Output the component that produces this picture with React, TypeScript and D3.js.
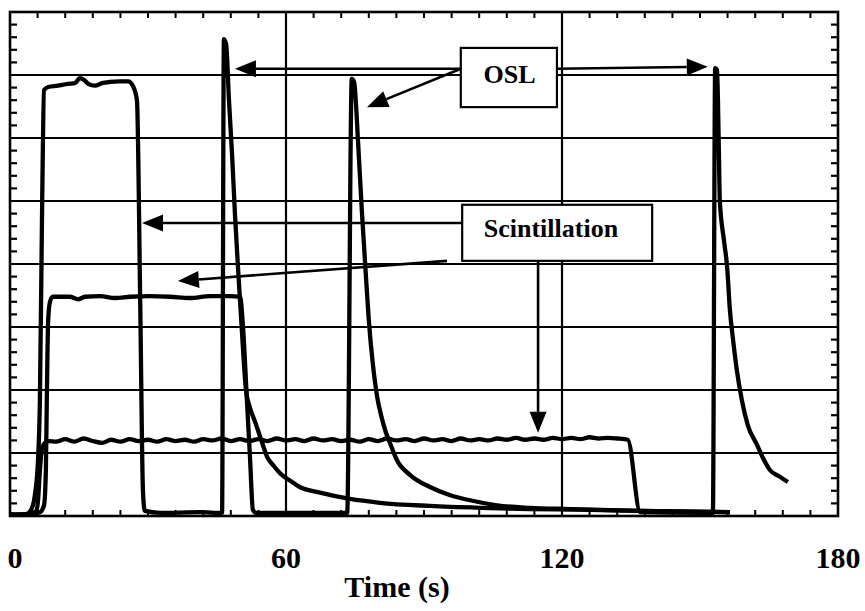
import React from "react";
import * as d3 from "d3";

// ---- data (time in s, signal in arbitrary units 0..8) ----
const xTickLabels = [0, 60, 120, 180];
const yGridValues = [1, 2, 3, 4, 5, 6, 7];

// high scintillation curve followed by first OSL peak
const seriesA: [number, number][] = [
  [0, 0.02], [3.5, 0.03], [4.6, 0.1], [5.4, 0.33], [6.1, 0.89], [6.5, 1.84], [7.0, 5.02], [7.4, 6.76],
  [8.3, 6.81], [10.4, 6.83], [12.6, 6.86], [14.1, 6.87], [15.2, 6.95], [16.1, 6.92], [17.0, 6.86],
  [18.5, 6.83], [20.0, 6.87], [21.7, 6.89], [23.9, 6.9], [25.7, 6.9], [26.7, 6.83], [27.6, 6.6],
  [28.3, 3.43], [28.9, 0.41], [29.3, 0.08], [32.6, 0.05], [41.3, 0.06], [46.1, 0.05],
  [46.5, 7.57], [47.0, 7.48], [47.6, 6.6], [48.3, 5.7], [48.9, 4.8], [49.6, 3.9], [50.4, 2.95],
  [51.3, 2.0], [52.2, 1.71], [53.3, 1.49], [54.6, 1.21], [55.9, 0.94], [57.4, 0.79], [58.7, 0.68],
  [60.9, 0.56], [63.0, 0.46], [67.4, 0.37], [73.9, 0.27], [80.4, 0.21], [91.3, 0.16], [102.2, 0.13],
  [113.0, 0.11], [123.9, 0.1], [137.0, 0.08], [156.5, 0.06],
];

// medium scintillation curve followed by second OSL peak
const seriesB: [number, number][] = [
  [0, 0.02], [4.3, 0.03], [6.5, 0.06], [7.4, 0.17], [7.8, 0.73], [8.0, 1.84], [8.3, 3.11], [8.7, 3.4],
  [9.3, 3.48], [13.0, 3.48], [14.8, 3.44], [16.3, 3.48], [19.6, 3.49], [22.8, 3.46], [26.1, 3.48],
  [30.4, 3.49], [34.8, 3.48], [39.1, 3.46], [43.5, 3.49], [47.8, 3.49], [50.0, 3.48], [50.7, 2.95],
  [51.5, 1.84], [52.2, 0.89], [52.8, 0.1], [53.5, 0.05], [63.0, 0.05], [73.3, 0.05],
  [74.3, 6.94], [74.8, 6.89], [75.7, 5.89], [76.5, 4.83], [77.4, 3.78], [78.0, 3.11], [78.9, 2.4],
  [79.8, 1.9], [80.7, 1.59], [81.7, 1.33], [82.6, 1.16], [84.1, 0.89], [87.0, 0.65], [91.3, 0.46],
  [95.7, 0.33], [100.0, 0.25], [105.9, 0.17], [113.0, 0.13], [121.7, 0.11], [137.0, 0.08], [156.5, 0.06],
];

// low scintillation curve followed by third OSL peak
const seriesC: [number, number][] = [
  [0, 0.02], [4.3, 0.03], [5.7, 0.08], [6.1, 0.25], [6.5, 0.73], [7.0, 1.08], [7.6, 1.16],
  [8.5, 1.19], [10, 1.18], [12, 1.22], [14, 1.18], [16, 1.23], [18, 1.19], [20, 1.16], [22, 1.21],
  [24, 1.18], [26, 1.22], [28, 1.19], [30, 1.21], [32, 1.18], [34, 1.22], [36, 1.19], [38, 1.21],
  [40, 1.18], [42, 1.22], [44, 1.2], [46, 1.23], [48, 1.19], [50, 1.22], [52, 1.19], [54, 1.22],
  [56, 1.19], [58, 1.23], [60, 1.2], [62, 1.22], [64, 1.19], [66, 1.23], [68, 1.2], [70, 1.22],
  [72, 1.19], [74, 1.21], [76, 1.18], [78, 1.22], [80, 1.19], [82, 1.23], [84, 1.2], [86, 1.22],
  [88, 1.19], [90, 1.23], [92, 1.2], [94, 1.22], [96, 1.19], [98, 1.23], [100, 1.2], [102, 1.22],
  [104, 1.2], [106, 1.23], [108, 1.21], [110, 1.24], [112, 1.21], [114, 1.23], [116, 1.21],
  [118, 1.24], [120, 1.22], [122, 1.24], [124, 1.22], [126, 1.25], [128, 1.23], [130, 1.24],
  [132, 1.23], [134.3, 1.21], [137.0, 0.06], [150.0, 0.05], [152.8, 0.05],
  [153.3, 7.11], [153.7, 7.08], [154.1, 5.81], [154.3, 5.02], [155.2, 4.38], [155.9, 3.95],
  [156.5, 3.27], [157.2, 2.79], [158.0, 2.32], [159.1, 1.84], [160.4, 1.44], [162.4, 1.13],
  [163.7, 0.92], [165.2, 0.73], [167.2, 0.63], [169.1, 0.54],
];

// annotation boxes (data units)
const oslBox = { label: "OSL", x0: 98.0, x1: 118.9, yTop: 7.43, yBottom: 6.49, tx: 108.6, ty: 6.87 };
const scintBox = { label: "Scintillation", x0: 98.3, x1: 139.6, yTop: 4.94, yBottom: 4.05, tx: 117.6, ty: 4.43 };

// arrows: [fromX, fromY, toX, toY] in data units
const oslArrows: [number, number, number, number][] = [
  [98.0, 7.1, 48.9, 7.1],
  [98.0, 7.1, 77.6, 6.49],
  [118.9, 7.1, 151.7, 7.13],
];
const scintArrows: [number, number, number, number][] = [
  [98.3, 4.65, 28.7, 4.65],
  [95.0, 4.05, 36.5, 3.73],
  [114.8, 4.05, 114.8, 1.32],
];

const W = 865;
const H = 611;
const FONT = "'Liberation Serif', 'Times New Roman', Times, serif";

export default function App() {
  const x = d3.scaleLinear().domain([0, 180]).range([10, 838]);
  const y = d3.scaleLinear().domain([0, 8]).range([516, 12]);

  const line = d3
    .line<[number, number]>()
    .x((d) => x(d[0]))
    .y((d) => y(d[1]))
    .curve(d3.curveMonotoneX);

  const xMinor = d3.range(6, 180, 6).filter((t) => t % 60 !== 0);
  const yMinor = d3.range(1, 40).map((i) => i * 0.2).filter((_, i) => (i + 1) % 5 !== 0);

  const arrow = (a: [number, number, number, number], key: string) => {
    const x1 = x(a[0]), y1 = y(a[1]), x2 = x(a[2]), y2 = y(a[3]);
    const ang = Math.atan2(y2 - y1, x2 - x1);
    const len = 21, hw = 8.5;
    const bx = x2 - len * Math.cos(ang), by = y2 - len * Math.sin(ang);
    const px = -Math.sin(ang) * hw, py = Math.cos(ang) * hw;
    return (
      <g key={key}>
        <line x1={x1} y1={y1} x2={bx} y2={by} stroke="#000" strokeWidth={2.6} />
        <path d={`M${x2},${y2}L${bx + px},${by + py}L${bx - px},${by - py}Z`} fill="#000" />
      </g>
    );
  };

  const box = (b: typeof oslBox, key: string) => (
    <g key={key}>
      <rect
        x={x(b.x0)}
        y={y(b.yTop)}
        width={x(b.x1) - x(b.x0)}
        height={y(b.yBottom) - y(b.yTop)}
        fill="#fff"
        stroke="#000"
        strokeWidth={2.2}
      />
      <text
        x={x(b.tx)}
        y={y(b.ty)}
        textAnchor="middle"
        fontFamily={FONT}
        fontWeight="bold"
        fontSize={26}
        fill="#000"
      >
        {b.label}
      </text>
    </g>
  );

  return (
    <div style={{ position: "absolute", left: 0, top: 0 }}>
      <svg width={W} height={H} style={{ display: "block", background: "#fff" }}>
        {/* grid */}
        {yGridValues.map((v) => (
          <line key={"hg" + v} x1={x(0)} x2={x(180)} y1={y(v)} y2={y(v)} stroke="#000" strokeWidth={2.2} />
        ))}
        {[60, 120].map((t) => (
          <line key={"vg" + t} x1={x(t)} x2={x(t)} y1={y(0)} y2={y(8)} stroke="#000" strokeWidth={2.2} />
        ))}
        {/* minor ticks */}
        {xMinor.map((t) => (
          <g key={"xt" + t}>
            <line x1={x(t)} x2={x(t)} y1={y(0)} y2={y(0) - 6} stroke="#000" strokeWidth={2} />
            <line x1={x(t)} x2={x(t)} y1={y(8)} y2={y(8) + 6} stroke="#000" strokeWidth={2} />
          </g>
        ))}
        {yMinor.map((v, i) => (
          <g key={"yt" + i}>
            <line x1={x(0)} x2={x(0) + 7} y1={y(v)} y2={y(v)} stroke="#000" strokeWidth={2.2} />
            <line x1={x(180)} x2={x(180) - 7} y1={y(v)} y2={y(v)} stroke="#000" strokeWidth={2.2} />
          </g>
        ))}
        {/* frame */}
        <rect x={x(0)} y={y(8)} width={x(180) - x(0)} height={y(0) - y(8)} fill="none" stroke="#000" strokeWidth={2.6} />
        {/* curves */}
        {[seriesA, seriesB, seriesC].map((s, i) => (
          <path key={"s" + i} d={line(s) || ""} fill="none" stroke="#000" strokeWidth={4.3} strokeLinejoin="round" />
        ))}
        {/* annotations */}
        {oslArrows.map((a, i) => arrow(a, "oa" + i))}
        {scintArrows.map((a, i) => arrow(a, "sa" + i))}
        {box(oslBox, "ob")}
        {box(scintBox, "sb")}
        {/* axis labels */}
        {xTickLabels.map((t) => (
          <text
            key={"xl" + t}
            x={x(t) + (t === 0 ? 5 : 0)}
            y={568}
            textAnchor="middle"
            fontFamily={FONT}
            fontWeight="bold"
            fontSize={30}
            fill="#000"
          >
            {t}
          </text>
        ))}
        <text x={397} y={597} textAnchor="middle" fontFamily={FONT} fontWeight="bold" fontSize={30} fill="#000">
          Time (s)
        </text>
      </svg>
    </div>
  );
}
